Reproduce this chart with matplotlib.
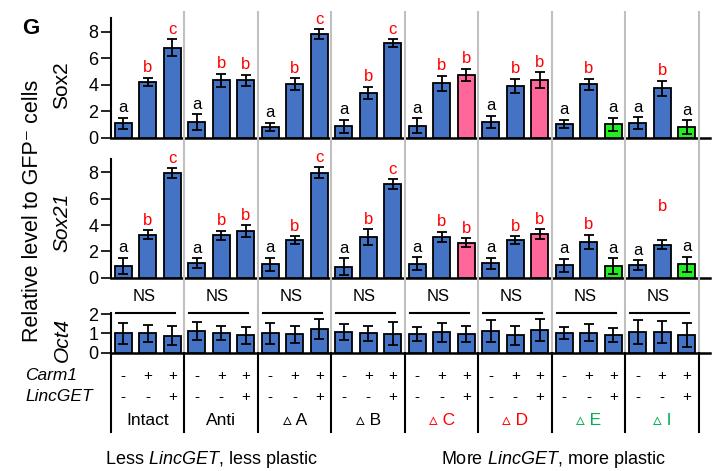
import matplotlib
matplotlib.use("Agg")
import matplotlib.pyplot as plt
from matplotlib.transforms import blended_transform_factory
import numpy as np

plt.rcParams["font.family"] = ["Liberation Sans", "DejaVu Sans"]
plt.rcParams["mathtext.fontset"] = "custom"
plt.rcParams["mathtext.rm"] = "Liberation Sans"
plt.rcParams["mathtext.it"] = "Liberation Sans:italic"

# Grupos (constructo) y condiciones
grupos = ["Intact", "Anti", "\u25b5 A", "\u25b5 B", "\u25b5 C", "\u25b5 D", "\u25b5 E", "\u25b5 I"]
color_grupo = ["black", "black", "black", "black", "red", "red", "#00b050", "#00b050"]
carm1 = ["-", "+", "+"]
lincget = ["-", "-", "+"]

# Sox2
sox2_media = [1.10, 4.23, 6.80, 1.16, 4.33, 4.33, 0.81, 4.03, 7.80, 0.86, 3.37, 7.12,
              0.91, 4.10, 4.73, 1.21, 3.90, 4.35, 1.03, 4.03, 1.01, 1.09, 3.73, 0.78]
sox2_err = [0.42, 0.30, 0.63, 0.60, 0.50, 0.40, 0.32, 0.45, 0.38, 0.48, 0.45, 0.30,
            0.55, 0.55, 0.48, 0.45, 0.53, 0.58, 0.33, 0.42, 0.48, 0.45, 0.55, 0.53]
sox2_letras = ["a", "b", "c", "a", "b", "b", "a", "b", "c", "a", "b", "c",
               "a", "b", "b", "a", "b", "b", "a", "b", "a", "a", "b", "a"]

# Sox21
sox21_media = [0.91, 3.27, 7.97, 1.09, 3.22, 3.55, 1.01, 2.86, 7.97, 0.84, 3.09, 7.11,
               1.06, 3.09, 2.66, 1.09, 2.86, 3.32, 0.94, 2.73, 0.89, 0.96, 2.51, 1.02]
sox21_err = [0.60, 0.35, 0.36, 0.38, 0.33, 0.45, 0.50, 0.30, 0.41, 0.63, 0.58, 0.36,
             0.49, 0.40, 0.33, 0.43, 0.30, 0.36, 0.48, 0.53, 0.58, 0.36, 0.33, 0.57]
sox21_letras = sox2_letras

# Oct4
oct4_media = [1.00, 1.00, 0.88, 1.14, 1.04, 0.90, 1.00, 0.95, 1.21, 1.06, 1.00, 0.98,
              0.97, 1.06, 0.97, 1.11, 0.90, 1.18, 1.00, 1.04, 0.93, 1.07, 1.07, 0.92]
oct4_err = [0.55, 0.43, 0.50, 0.47, 0.36, 0.43, 0.55, 0.43, 0.52, 0.41, 0.37, 0.59,
            0.35, 0.50, 0.43, 0.57, 0.50, 0.55, 0.31, 0.43, 0.36, 0.62, 0.57, 0.60]

AZUL = "#4472c4"
ROSA = "#ff6699"
VERDE = "#22ee22"
colores = [AZUL] * 24
colores[14] = colores[17] = ROSA
colores[20] = colores[23] = VERDE

x = np.arange(24)
sep = np.arange(9) * 3 - 0.5

fig = plt.figure(figsize=(7.24, 4.71), dpi=100)
ax1 = fig.add_axes([0.1533, 0.7076, 0.8273, 0.2535])
ax2 = fig.add_axes([0.1533, 0.4104, 0.8273, 0.2514])
ax3 = fig.add_axes([0.1533, 0.2512, 0.8273, 0.0849])


def panel(ax, media, err, ylim, yticks, cols):
    ax.bar(x, media, width=0.7, color=cols, edgecolor="black", linewidth=1.3, zorder=3)
    ax.errorbar(x, media, yerr=err, fmt="none", ecolor="black", elinewidth=1.3,
                capsize=3.6, capthick=1.3, zorder=4)
    ax.set_xlim(-0.5, 23.95)
    ax.set_ylim(*ylim)
    ax.set_yticks(yticks)
    ax.set_xticks([])
    for s in ["top", "right"]:
        ax.spines[s].set_visible(False)
    ax.spines["left"].set_linewidth(1.5)
    ax.spines["bottom"].set_linewidth(1.8)
    ax.tick_params(axis="y", labelsize=13, width=1.2, length=7, pad=2)
    ax.patch.set_visible(False)


def letras(ax, media, err, etiquetas, extra=None):
    extra = extra or {}
    for i, l in enumerate(etiquetas):
        y = media[i] + err[i] + 0.42
        y = extra.get(i, y)
        ax.text(x[i], y, l, ha="center", va="baseline", fontsize=12,
                color="black" if l == "a" else "red", clip_on=False)


panel(ax1, sox2_media, sox2_err, (0, 9), [0, 2, 4, 6, 8], colores)
panel(ax2, sox21_media, sox21_err, (0, 9), [0, 2, 4, 6, 8], colores)
panel(ax3, oct4_media, oct4_err, (0, 2.07), [0, 1, 2], AZUL)
letras(ax1, sox2_media, sox2_err, sox2_letras)
letras(ax2, sox21_media, sox21_err, sox21_letras, extra={22: 5.1})

# NS sobre Oct4
for g in range(8):
    x0 = g * 3
    ax3.plot([x0 - 0.3, x0 + 2.1], [2.05, 2.05], color="black", lw=1.5, clip_on=False)
    ax3.text(x0 + 0.85, 2.9, "NS", ha="center", va="center", fontsize=12, clip_on=False)

# Separadores verticales entre grupos
tr = blended_transform_factory(ax3.transData, fig.transFigure)
for k, xs in enumerate(sep):
    if k > 0:
        ax3.plot([xs, xs], [1 - 12 / 471, 1 - 352.7 / 471], color="#c0c0c0", lw=1.5,
                 transform=tr, clip_on=False, zorder=1)
    ax3.plot([xs, xs], [1 - 352.7 / 471, 1 - 431.7 / 471], color="black", lw=1.5,
             transform=tr, clip_on=False)

# Tabla de condiciones
for g in range(8):
    for j in range(3):
        xi = g * 3 + j
        ax3.text(xi, 1 - 376 / 471, carm1[j], ha="center", va="center", fontsize=11,
                 transform=tr)
        ax3.text(xi, 1 - 396.7 / 471, lincget[j], ha="center", va="center", fontsize=11,
                 transform=tr)
    ax3.text(g * 3 + 1, 1 - 420.7 / 471, grupos[g], ha="center", va="center",
             fontsize=12.5, color=color_grupo[g], transform=tr)

fig.text(25 / 724, 1 - 376 / 471, "Carm1", style="italic", fontsize=12.5, va="center")
fig.text(25 / 724, 1 - 396.7 / 471, "LincGET", style="italic", fontsize=12.5, va="center")

fig.text(210.8 / 724, 1 - 460 / 471, "Less $\\it{LincGET}$, less plastic", ha="center",
         va="center", fontsize=13)
fig.text(553.3 / 724, 1 - 460 / 471, "More $\\it{LincGET}$, more plastic", ha="center",
         va="center", fontsize=13)

# Etiquetas de eje
fig.text(33 / 724, 1 - 211 / 471, "Relative level to GFP\u207b cells", rotation=90,
         ha="center", va="center", fontsize=15.5)
fig.text(62 / 724, 1 - 85 / 471, "Sox2", rotation=90, ha="center", va="center", fontsize=15)
fig.text(62 / 724, 1 - 222 / 471, "Sox21", rotation=90, ha="center", va="center",
         fontsize=15, style="italic")
fig.text(62 / 724, 1 - 340 / 471, "Oct4", rotation=90, ha="center", va="center",
         fontsize=15, style="italic")
fig.text(31 / 724, 1 - 28 / 471, "G", fontsize=16, fontweight="bold", ha="center", va="center")

fig.savefig("out.png", dpi=100)
